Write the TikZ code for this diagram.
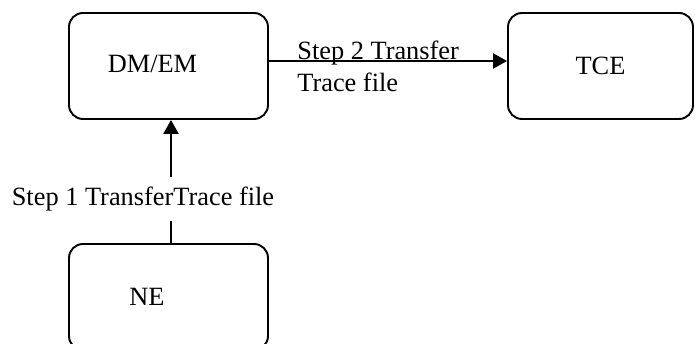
\documentclass[tikz,border=0pt]{standalone}
\usepackage{fontspec}
\setmainfont{Liberation Serif}
\usetikzlibrary{arrows.meta,positioning}

\tikzset{
  box/.style={draw, rounded corners=0.28cm, line width=1.1pt,
    minimum width=3.98cm, minimum height=2.12cm},
  flow/.style={line width=1.4pt, -{Triangle[length=0.28cm,width=0.3cm]}},
}

\begin{document}
\begin{tikzpicture}[font=\fontsize{15}{18}\selectfont]
		\useasboundingbox (0,0) rectangle (13.9,6.88);
		\node[box, label={[xshift=-0.32cm, yshift=0.04cm]center:DM/EM}] (dmem) at (3.37,5.56) {};
		\node[box, minimum width=3.7cm] (tce) at (12.01,5.56) {TCE};
		\node[box, label={[xshift=-0.43cm]center:NE}] (ne) at (3.37,0.94) {};
		
		% Draw edges
		\draw[flow] (ne.north -| 3.42,0) -- (dmem.south -| 3.42,0)
			node[pos=0.4, xshift=-0.56cm, yshift=-0.1cm, fill=white, inner xsep=0pt, inner ysep=0.2cm] (s1) {Step 1 TransferTrace file};
		\draw[flow] ([yshift=0.1cm]dmem.east) -- ([yshift=0.1cm]tce.west);
		\node[anchor=north west, inner sep=0pt, align=left] (s2) at (5.94,6.06) {Step 2 Transfer\\Trace file};
	\end{tikzpicture}
\end{document}
